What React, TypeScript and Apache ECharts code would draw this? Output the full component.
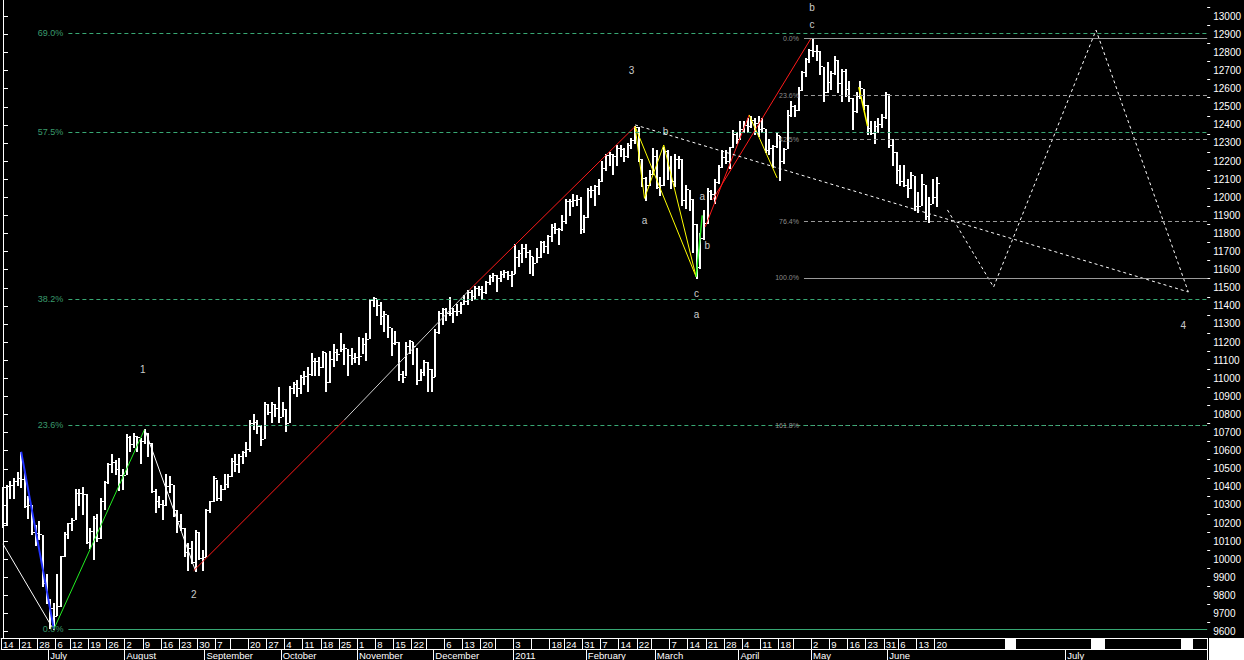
import React, { useEffect, useRef } from 'react';
import * as echarts from 'echarts';

// ---------- calendar ----------
const firstDay = '2010-06-14';
const lastDay = '2011-06-20';
const holidays = ['2010-07-05', '2010-09-06', '2010-11-25', '2010-12-24', '2011-01-17', '2011-02-21', '2011-04-22', '2011-05-30'];
const futureSlots = 74;
const hiddenDayLabels = ['2010-09-13', '2010-11-29', '2010-12-27', '2011-01-10', '2011-02-28', '2011-04-25'];
const futureMonthLabels: [number, string][] = [[293, 'July']];
const monthNames = ['January', 'February', 'March', 'April', 'May', 'June', 'July', 'August', 'September', 'October', 'November', 'December'];

// ---------- daily prices (DJIA) ----------
const highs = [
  10400, 10410, 10430, 10450, 10480, 10594, 10480, 10350, 10300, 10190,
  10210, 10135, 9920, 9780, 9760, 9920, 10020, 10150, 10200, 10230,
  10390, 10390, 10400, 10360, 10170, 10240, 10250, 10340, 10430, 10530,
  10580, 10550, 10560, 10500, 10690, 10680, 10700, 10680, 10670, 10719,
  10700, 10640, 10390, 10350, 10330, 10470, 10460, 10410, 10270, 10250,
  10170, 10090, 10100, 10160, 10150, 10050, 10280, 10320, 10460, 10440,
  10410, 10470, 10470, 10560, 10580, 10580, 10600, 10650, 10770, 10800,
  10770, 10740, 10870, 10860, 10870, 10860, 10950, 10870, 10830, 10960,
  10980, 10990, 11020, 11040, 11060, 11140, 11110, 11120, 11150, 11140,
  11150, 11190, 11160, 11250, 11190, 11160, 11170, 11140, 11230, 11220,
  11250, 11440, 11451, 11440, 11420, 11370, 11350, 11280, 11260, 11200,
  11040, 11200, 11210, 11200, 11170, 11050, 11100, 11090, 11050, 11270,
  11370, 11390, 11390, 11450, 11390, 11410, 11420, 11460, 11490, 11490,
  11510, 11510, 11510, 11540, 11570, 11580, 11570, 11590, 11600, 11590,
  11590, 11740, 11710, 11740, 11740, 11710, 11670, 11720, 11760, 11760,
  11790, 11850, 11860, 11830, 11900, 11990, 11990, 12020, 12010, 12000,
  11900, 12050, 12060, 12070, 12100, 12200, 12240, 12250, 12240, 12290,
  12290, 12270, 12300, 12330, 12395, 12390, 12210, 12110, 12150, 12270,
  12260, 12110, 12280, 12260, 12230, 12240, 12230, 12210, 12070, 12040,
  11990, 11850, 11800, 11930, 12050, 12040, 12100, 12180, 12260, 12260,
  12280, 12370, 12360, 12420, 12420, 12440, 12450, 12440, 12450, 12440,
  12380, 12320, 12290, 12360, 12340, 12270, 12480, 12530, 12510, 12610,
  12700, 12770, 12820, 12876, 12840, 12810, 12720, 12750, 12700, 12780,
  12760, 12710, 12710, 12640, 12550, 12580, 12640, 12600, 12510, 12420,
  12420, 12440, 12460, 12580, 12570, 12320, 12250, 12180, 12180, 12100,
  12140, 12120, 12030, 12130, 12070, 12000, 12100, 12110,
];
const lows = [
  10180, 10190, 10340, 10340, 10410, 10400, 10290, 10230, 10140, 10080,
  10110, 9850, 9760, 9620, 9614, 9690, 9740, 10020, 10120, 10160,
  10220, 10300, 10250, 10090, 10060, 10000, 10100, 10120, 10280, 10420,
  10480, 10470, 10380, 10390, 10470, 10600, 10620, 10600, 10530, 10640,
  10570, 10370, 10260, 10290, 10220, 10300, 10370, 10240, 10150, 10160,
  10020, 9940, 9980, 9936, 10000, 9940, 10020, 10260, 10320, 10330,
  10330, 10390, 10400, 10460, 10490, 10480, 10530, 10570, 10600, 10720,
  10700, 10630, 10670, 10800, 10760, 10790, 10760, 10790, 10710, 10760,
  10920, 10900, 10920, 10970, 10930, 11020, 11020, 11020, 11060, 10930,
  10980, 11070, 11100, 11150, 11080, 11020, 11080, 11090, 11080, 11140,
  11100, 11220, 11400, 11350, 11300, 11260, 11230, 11130, 11190, 10990,
  10980, 11020, 11140, 11080, 10970, 10990, 11020, 10930, 10930, 11010,
  11250, 11300, 11320, 11350, 11310, 11350, 11360, 11410, 11410, 11430,
  11440, 11460, 11440, 11470, 11520, 11540, 11480, 11540, 11560, 11550,
  11510, 11580, 11620, 11640, 11670, 11580, 11570, 11640, 11670, 11700,
  11690, 11760, 11800, 11740, 11820, 11860, 11900, 11950, 11960, 11800,
  11810, 11890, 12000, 11960, 12020, 12090, 12150, 12180, 12130, 12180,
  12230, 12200, 12220, 12270, 12300, 12200, 12060, 11983, 12070, 12130,
  12050, 12010, 12070, 12100, 12050, 12060, 12160, 11960, 11940, 11930,
  11700, 11555, 11610, 11770, 11860, 11990, 11970, 12080, 12170, 12190,
  12160, 12280, 12300, 12320, 12360, 12360, 12390, 12350, 12340, 12360,
  12250, 12240, 12170, 12280, 12093, 12190, 12270, 12450, 12450, 12480,
  12590, 12670, 12750, 12780, 12760, 12680, 12530, 12580, 12600, 12680,
  12580, 12530, 12560, 12530, 12380, 12470, 12550, 12490, 12350, 12350,
  12300, 12360, 12390, 12440, 12280, 12180, 12080, 12070, 12060, 12000,
  12050, 11930, 11920, 11960, 11880, 11862, 11970, 11950,
];
const closes = [
  10190, 10405, 10409, 10434, 10450, 10442, 10294, 10298, 10152, 10143,
  10138, 9870, 9774, 9732, 9686, 9744, 10018, 10139, 10198, 10216,
  10364, 10367, 10359, 10098, 10154, 10230, 10120, 10322, 10425, 10525,
  10537, 10497, 10468, 10466, 10674, 10636, 10680, 10674, 10653, 10698,
  10644, 10379, 10320, 10303, 10302, 10406, 10415, 10271, 10214, 10174,
  10040, 10060, 9985, 10150, 10009, 10015, 10270, 10320, 10448, 10341,
  10387, 10416, 10462, 10544, 10526, 10572, 10595, 10608, 10753, 10761,
  10739, 10662, 10860, 10812, 10858, 10835, 10788, 10830, 10751, 10945,
  10967, 10948, 11006, 11010, 11021, 11096, 11094, 11063, 11143, 10979,
  11108, 11147, 11133, 11164, 11169, 11126, 11114, 11118, 11125, 11189,
  11216, 11434, 11445, 11406, 11346, 11357, 11283, 11193, 11201, 11023,
  11007, 11181, 11204, 11178, 10988, 11037, 11092, 11052, 11006, 11255,
  11362, 11382, 11362, 11359, 11372, 11370, 11410, 11428, 11476, 11457,
  11499, 11491, 11478, 11533, 11559, 11573, 11555, 11575, 11585, 11569,
  11577, 11670, 11691, 11722, 11697, 11674, 11637, 11671, 11755, 11731,
  11787, 11837, 11825, 11822, 11871, 11980, 11977, 11985, 11989, 11823,
  11891, 12040, 12041, 12062, 12092, 12161, 12234, 12240, 12229, 12273,
  12268, 12227, 12288, 12318, 12391, 12212, 12105, 12068, 12130, 12226,
  12058, 12066, 12258, 12170, 12090, 12214, 12213, 11985, 12044, 11993,
  11855, 11613, 11775, 11858, 12036, 12018, 12086, 12170, 12220, 12198,
  12279, 12350, 12320, 12377, 12400, 12393, 12426, 12409, 12380, 12381,
  12263, 12271, 12286, 12342, 12202, 12266, 12453, 12506, 12480, 12595,
  12690, 12763, 12811, 12808, 12807, 12724, 12584, 12638, 12685, 12760,
  12630, 12695, 12596, 12548, 12479, 12560, 12605, 12512, 12381, 12356,
  12395, 12403, 12442, 12570, 12290, 12248, 12151, 12089, 12070, 12049,
  12124, 11952, 11953, 12076, 11898, 11962, 12004, 12080,
];

// ---------- price axis ----------
const priceMin = 9565;
const priceMax = 13090;
const priceTicks = [9600, 9700, 9800, 9900, 10000, 10100, 10200, 10300, 10400, 10500, 10600, 10700, 10800, 10900, 11000, 11100, 11200, 11300, 11400, 11500, 11600, 11700, 11800, 11900, 12000, 12100, 12200, 12300, 12400, 12500, 12600, 12700, 12800, 12900, 13000];
const priceMinorTicks = [9650, 9750, 9850, 9950, 10050, 10150, 10250, 10350, 10450, 10550, 10650, 10750, 10850, 10950, 11050, 11150, 11250, 11350, 11450, 11550, 11650, 11750, 11850, 11950, 12050, 12150, 12250, 12350, 12450, 12550, 12650, 12750, 12850, 12950, 13050];

// ---------- Fibonacci levels ----------
const mainFibLevels = [9614, 10741, 11438, 12360, 12909];
const mainFibLabels = ['0.0%', '23.6%', '38.2%', '57.5%', '69.0%'];
const mainFibSolid = [true, false, false, false, false];
const mainFibStart = 18;
const extFibLevels = [12876, 12564, 12318, 11867, 11555, 10739];
const extFibLabels = ['0.0%', '23.6%', '42.5%', '76.4%', '100.0%', '161.8%'];
const extFibSolid = [true, false, false, false, true, false];
const extFibStart = 220.5;

// ---------- wave lines ----------
const leftWhiteLine = [[0, 10085], [13.5, 9625]];
const blueLine = [[5, 10594], [14, 9614]];
const greenLine1 = [[14, 9614], [39, 10719]];
const whiteLine2 = [[39, 10719], [53, 9936]];
const redLine1a = [[52.5, 9937], [94, 10770]];
const grayLink = [[94, 10770], [128.5, 11490]];
const redLine1b = [[128.5, 11490], [174, 12391]];
const yellowZigzag = [[174, 12391], [176.6, 11994], [181.9, 12289], [190.8, 11561]];
const yellowDirect = [[174, 12391], [190.8, 11561]];
const greenShort = [[190.8, 11561], [192.5, 11900]];
const redLine2 = [[193.3, 11836], [205.4, 12455]];
const redLine3 = [[195.3, 11985], [222.5, 12880]];
const yellowLine2 = [[205.4, 12455], [213.1, 12107]];
const yellowLine3 = [[235.6, 12609], [238, 12393]];
const trendLine = [[174, 12400], [326.3, 11477]];
const projectionLine = [[260, 11930], [272.7, 11504], [300.9, 12924], [326.3, 11477]];

// ---------- wave labels ----------
const waveLabels: [number, number, string][] = [
  [38.5, 11046, '1'], [52.5, 9808, '2'], [173.0, 12703, '3'],
  [176.6, 11874, 'a'], [182.4, 12366, 'b'], [190.9, 11471, 'c'], [190.9, 11355, 'a'],
  [192.5, 12007, 'a'], [193.9, 11736, 'b'],
  [222.7, 13046, 'b'], [222.7, 12957, 'c'], [324.9, 11294, '4'],
];

const FONT = 'Arial, "Liberation Sans", sans-serif';
const GREEN = '#38a874';
const GREEN_TEXT = '#3a9a6c';
const GRAY = '#9a9a9a';

function buildTradingDays(): string[] {
  const out: string[] = [];
  const d = new Date(firstDay + 'T00:00:00Z');
  const end = new Date(lastDay + 'T00:00:00Z');
  while (d.getTime() <= end.getTime()) {
    const wd = d.getUTCDay();
    const s = d.toISOString().slice(0, 10);
    if (wd !== 0 && wd !== 6 && !holidays.includes(s)) out.push(s);
    d.setUTCDate(d.getUTCDate() + 1);
  }
  return out;
}

function buildOption() {
  const tradingDays = buildTradingDays();
  const nTrade = tradingDays.length;
  const categories = tradingDays.concat(Array.from({ length: futureSlots }, (_, k) => 'F' + (k + 1)));
  const nCat = categories.length;
  const xMin = -0.5;
  const xMax = nCat - 0.5;

  const mondayKey = (s: string) => {
    const d = new Date(s + 'T00:00:00Z');
    return d.getTime() - ((d.getUTCDay() + 6) % 7) * 864e5;
  };
  const weekStart = categories.map((c, i) =>
    i < nTrade && (i === 0 || mondayKey(c) !== mondayKey(categories[i - 1])));
  const futureMonth = (i: number) => futureMonthLabels.find((m) => m[0] === i);
  const monthStart = categories.map((c, i) =>
    i < nTrade ? i > 0 && c.slice(5, 7) !== categories[i - 1].slice(5, 7) : !!futureMonth(i));
  const monthLabel = (i: number) => {
    if (i >= nTrade) {
      const m = futureMonth(i);
      return m ? m[1] : '';
    }
    const d = categories[i];
    const mo = +d.slice(5, 7);
    return mo === 1 ? d.slice(0, 4) : monthNames[mo - 1];
  };
  const dayLabel = (i: number) =>
    i < nTrade && !hiddenDayLabels.includes(categories[i]) ? String(+categories[i].slice(8, 10)) : '';

  const bars = tradingDays.map((_, i) => [i, highs[i], lows[i], closes[i]]);

  const seg = (data: number[][], color: string, width = 1, type: any = 'solid', z = 3) => ({
    type: 'line',
    data,
    xAxisIndex: 0,
    yAxisIndex: 0,
    showSymbol: false,
    symbol: 'none',
    silent: true,
    z,
    lineStyle: { color, width, type },
  });

  const fibLine = (start: number, level: number, label: string, solid: boolean, color: string, textColor: string, fontSize: number, width: number) => [
    {
      coord: [start, level],
      lineStyle: { color, width, type: solid ? 'solid' : [4, 3] },
      label: { show: true, position: 'start', formatter: label, color: textColor, fontSize, fontFamily: FONT, distance: 5 },
    },
    { coord: [xMax, level] },
  ];

  const markLineData = [
    ...extFibLevels.map((v, k) => fibLine(extFibStart, v, extFibLabels[k], extFibSolid[k], GRAY, '#8c8c8c', 7, 1)),
    ...mainFibLevels.map((v, k) => fibLine(mainFibStart, v, mainFibLabels[k], mainFibSolid[k], GREEN, GREEN_TEXT, 9, 1)),
  ];

  return {
    animation: false,
    backgroundColor: '#000',
    grid: { left: 0, top: 0, right: 35, height: 638, containLabel: false },
    xAxis: [
      { type: 'value', min: xMin, max: xMax, show: false, gridIndex: 0 },
      {
        type: 'category',
        data: categories,
        position: 'bottom',
        boundaryGap: true,
        gridIndex: 0,
        axisLine: { show: true, lineStyle: { color: '#fff', width: 1 } },
        axisTick: { show: true, interval: (i: number) => weekStart[i], length: 11, lineStyle: { color: '#fff', width: 1 } },
        axisLabel: {
          show: true,
          interval: (i: number) => weekStart[i],
          formatter: (_v: string, i: number) => dayLabel(i),
          color: '#fff',
          fontSize: 9.5,
          fontFamily: FONT,
          align: 'left',
          margin: 1,
          lineHeight: 10,
        },
        splitLine: { show: false },
      },
      {
        type: 'category',
        data: categories,
        position: 'bottom',
        offset: 11,
        boundaryGap: true,
        gridIndex: 0,
        axisLine: { show: true, lineStyle: { color: '#fff', width: 1 } },
        axisTick: { show: true, interval: (i: number) => monthStart[i], length: 11, lineStyle: { color: '#fff', width: 1 } },
        axisLabel: {
          show: true,
          interval: (i: number) => monthStart[i],
          formatter: (_v: string, i: number) => monthLabel(i),
          color: '#fff',
          fontSize: 9.5,
          fontFamily: FONT,
          align: 'left',
          margin: 1,
          lineHeight: 10,
        },
        splitLine: { show: false },
      },
    ],
    yAxis: [
      {
        type: 'value',
        position: 'right',
        min: priceMin,
        max: priceMax,
        gridIndex: 0,
        axisLine: { show: true, lineStyle: { color: '#fff', width: 1 } },
        axisTick: { show: true, customValues: priceTicks, length: 5, lineStyle: { color: '#fff' } },
        axisLabel: {
          show: true,
          customValues: priceTicks,
          formatter: (v: number) => String(Math.round(v)),
          color: '#fff',
          fontSize: 10,
          fontFamily: FONT,
          margin: 6,
        },
        splitLine: { show: false },
      },
      {
        type: 'value',
        position: 'right',
        min: priceMin,
        max: priceMax,
        gridIndex: 0,
        axisLine: { show: false },
        axisTick: { show: true, customValues: priceMinorTicks, length: 3, lineStyle: { color: '#fff' } },
        axisLabel: { show: false },
        splitLine: { show: false },
      },
    ],
    graphic: [
      { type: 'rect', shape: { x: 1209, y: 638, width: 35, height: 22 }, style: { fill: '#fff' }, silent: true },
      { type: 'rect', shape: { x: 1005, y: 639, width: 11, height: 10 }, style: { fill: '#fff' }, silent: true },
      { type: 'rect', shape: { x: 1091, y: 639, width: 14, height: 10 }, style: { fill: '#fff' }, silent: true },
      { type: 'rect', shape: { x: 1181, y: 639, width: 12, height: 10 }, style: { fill: '#fff' }, silent: true },
    ],
    series: [
      {
        type: 'custom',
        name: 'DJIA',
        xAxisIndex: 0,
        yAxisIndex: 0,
        silent: true,
        z: 2,
        data: bars,
        encode: { x: 0, y: [1, 2, 3] },
        renderItem: (_p: any, api: any) => {
          const x = api.value(0);
          const hi = api.coord([x, api.value(1)]);
          const lo = api.coord([x, api.value(2)]);
          const cl = api.coord([x, api.value(3)]);
          const px = Math.round(hi[0]);
          return {
            type: 'group',
            children: [
              { type: 'line', shape: { x1: px, y1: Math.round(hi[1]), x2: px, y2: Math.round(lo[1]) + 1 }, style: { stroke: '#fff', lineWidth: 2 } },
              { type: 'line', shape: { x1: px, y1: Math.round(cl[1]) + 0.5, x2: px + 3, y2: Math.round(cl[1]) + 0.5 }, style: { stroke: '#fff', lineWidth: 1 } },
            ],
          };
        },
      },
      {
        ...seg(trendLine, '#fff', 1, [3, 3], 4),
        markLine: { silent: true, symbol: ['none', 'none'], animation: false, data: markLineData },
      },
      seg(projectionLine, '#fff', 1, [3, 3], 4),
      seg(leftWhiteLine, '#fff', 1),
      seg(blueLine, '#2233ff', 2),
      seg(greenLine1, '#22ee22', 1),
      seg(whiteLine2, '#fff', 1),
      seg(redLine1a, '#ff1a1a', 1),
      seg(grayLink, '#cfcfcf', 1),
      seg(redLine1b, '#ff1a1a', 1),
      seg(yellowDirect, '#ffff00', 1),
      seg(yellowZigzag, '#ffff00', 1),
      seg(greenShort, '#22ee22', 1.5),
      seg(redLine2, '#ff1a1a', 1),
      seg(redLine3, '#ff1a1a', 1),
      seg(yellowLine2, '#ffff00', 1),
      seg(yellowLine3, '#ffff00', 1.5),
      {
        type: 'scatter',
        xAxisIndex: 0,
        yAxisIndex: 0,
        silent: true,
        z: 6,
        symbolSize: 1,
        itemStyle: { color: 'rgba(0,0,0,0)' },
        data: waveLabels.map((w) => ({ value: [w[0], w[1]], name: w[2] })),
        label: { show: true, position: 'inside', formatter: '{b}', color: '#fff', fontSize: 10, fontFamily: FONT },
      },
    ],
  };
}

export default function App() {
  const ref = useRef<HTMLDivElement>(null);
  useEffect(() => {
    document.body.style.margin = '0';
    document.body.style.background = '#000';
    const chart = echarts.init(ref.current as HTMLDivElement, null, { renderer: 'svg' });
    chart.setOption(buildOption() as any);
    return () => chart.dispose();
  }, []);
  return <div ref={ref} style={{ width: 1244, height: 660, background: '#000' }} />;
}
